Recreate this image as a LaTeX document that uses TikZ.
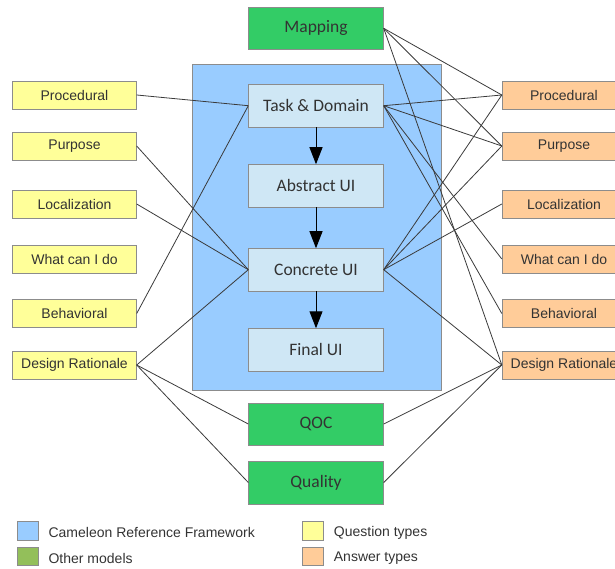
\documentclass[tikz,border=0pt]{standalone}
\usepackage{fontspec}
\setmainfont{Liberation Sans}
\newfontfamily\calfont{Carlito}
\usetikzlibrary{arrows.meta}
\usetikzlibrary{positioning}

\definecolor{crfblue}{HTML}{99CCFF}
\definecolor{crflight}{HTML}{CFE7F5}
\definecolor{modelgreen}{HTML}{33CC66}
\definecolor{keygreen}{HTML}{93BF5A}
\definecolor{qyellow}{HTML}{FFFF99}
\definecolor{aorange}{HTML}{FFCC99}
\definecolor{boxgray}{HTML}{8C8C8C}
\definecolor{linkgray}{HTML}{3A3A3A}
\definecolor{labelgray}{HTML}{333333}

\tikzset{
  qbox/.style={draw=boxgray, fill=qyellow, minimum width=124pt, minimum height=28pt,
    inner sep=0pt, text=labelgray, font=\fontsize{14}{16}\selectfont},
  abox/.style={qbox, fill=aorange},
  crfbox/.style={draw=boxgray, fill=crflight, minimum width=135pt, minimum height=42.5pt,
    inner sep=0pt, text=labelgray, font=\calfont\fontsize{17.5}{20}\selectfont},
  modelbox/.style={crfbox, fill=modelgreen},
  link/.style={draw=linkgray, line width=0.8pt},
  refine/.style={-{Triangle[length=17pt,width=13pt]}, line width=1pt, black},
  legkey/.style={draw=boxgray, minimum width=21pt, minimum height=18.5pt, inner sep=0pt},
  legtext/.style={inner sep=0pt, right=10.5pt of #1, yshift=-2pt, text=labelgray,
    font=\fontsize{14}{16}\selectfont}
}

\begin{document}
\begin{tikzpicture}[x=1pt,y=-1pt]
  \useasboundingbox (0,0) rectangle (615,569);
  \clip (0,0) rectangle (615,569);

  % Cameleon frame
  \node[draw=boxgray, fill=crfblue, minimum width=249pt, minimum height=326pt] (crf) at (316.2,227) {};

  % models
  \node[modelbox] (mapping) at (316,28.3) {Mapping};
  \node[crfbox] (task) at (316,105.7) {Task \& Domain};
  \node[crfbox] (abstract) at (316,185.7) {Abstract UI};
  \node[crfbox] (concrete) at (316,269.7) {Concrete UI};
  \node[crfbox] (final) at (316,349.7) {Final UI};
  \node[modelbox] (qoc) at (316,424) {QOC};
  \node[modelbox] (quality) at (316,482.5) {Quality};

  % question types
  \node[qbox] (qproc) at (74.5,95) {Procedural};
  \node[qbox] (qpurp) at (74.5,146) {Purpose};
  \node[qbox] (qloc) at (74.5,204) {Localization};
  \node[qbox] (qwhat) at (74.5,259) {What can I do};
  \node[qbox] (qbeh) at (74.5,313.5) {Behavioral};
  \node[qbox] (qdr) at (74.5,365) {Design Rationale};

  % answer types
  \node[abox] (aproc) at (564,95) {Procedural};
  \node[abox] (apurp) at (564,146) {Purpose};
  \node[abox] (aloc) at (564,204) {Localization};
  \node[abox] (awhat) at (564,259) {What can I do};
  \node[abox] (abeh) at (564,313.5) {Behavioral};
  \node[abox] (adr) at (564,365) {Design Rationale};

  % refinement
  \draw[refine] (task) -- (abstract);
  \draw[refine] (abstract) -- (concrete);
  \draw[refine] (concrete) -- (final);

  % questions to models
  \foreach \q/\m in {qproc/task, qbeh/task, qpurp/concrete, qloc/concrete,
                     qdr/concrete, qdr/qoc, qdr/quality}
    \draw[link] (\q.east) -- (\m.west);

  % models to answers
  \foreach \m/\a in {mapping/aproc, mapping/apurp, mapping/adr,
                     task/aproc, task/apurp, task/awhat, task/abeh,
                     concrete/aproc, concrete/apurp, concrete/aloc, concrete/adr,
                     qoc/adr, quality/adr}
    \draw[link] (\m.east) -- (\a.west);

  % legend
  \node[legkey, fill=crfblue] (keycrf) at (27.2,530.9) {};
  \node[legtext=keycrf] (txtcrf) {Cameleon Reference Framework};
  \node[legkey, fill=keygreen] (keyother) at (27.2,556.4) {};
  \node[legtext=keyother] (txtother) {Other models};
  \node[legkey, fill=qyellow] (keyq) at (312.5,530.9) {};
  \node[legtext=keyq] (txtq) {Question types};
  \node[legkey, fill=aorange] (keya) at (312.5,556.4) {};
  \node[legtext=keya] (txta) {Answer types};
\end{tikzpicture}
\end{document}
